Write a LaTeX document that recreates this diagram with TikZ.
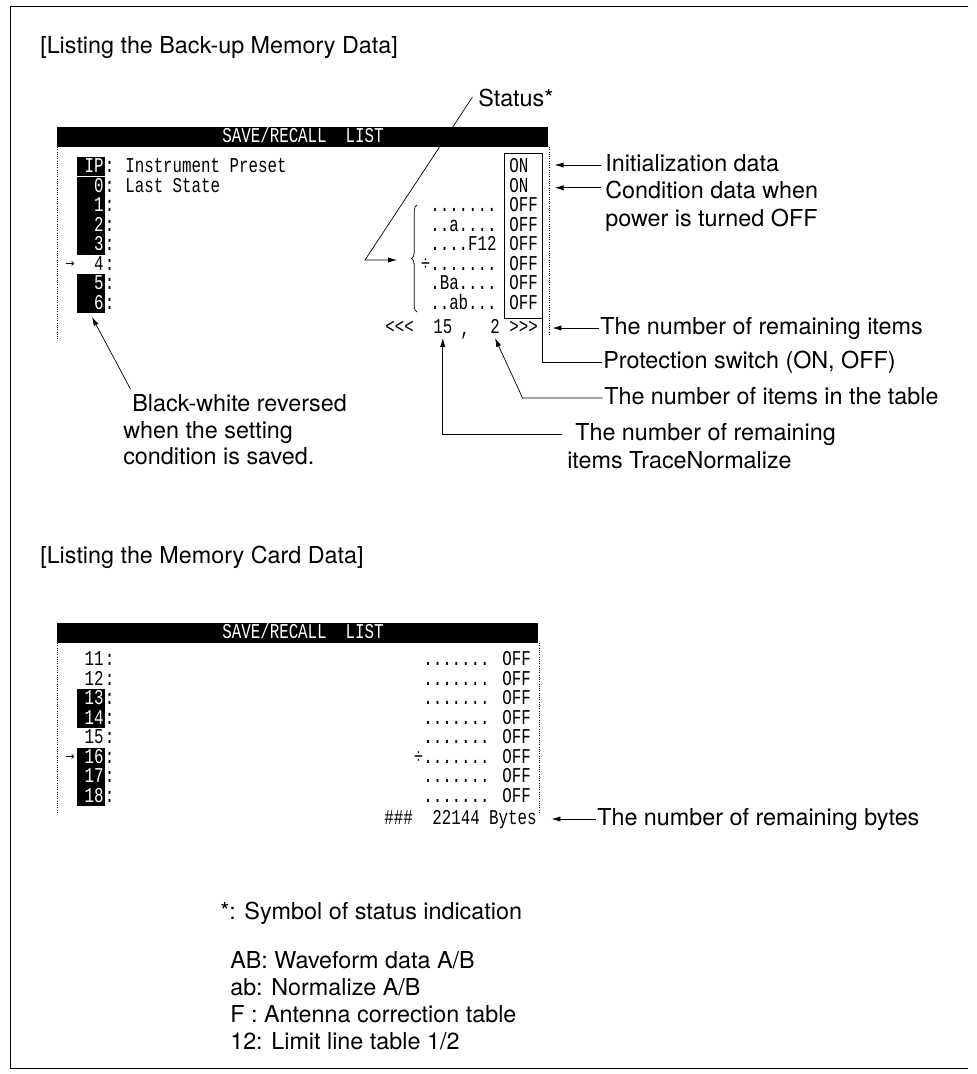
\documentclass[tikz,border=0pt]{standalone}
\usepackage{fontspec}
\setmainfont{TeX Gyre Heros}
\newfontfamily\scrfont[FakeStretch=0.75,Ligatures=TeXOff]{Liberation Mono}
\newfontfamily\symfont{DejaVu Sans}
\usepackage{xcolor}
\usetikzlibrary{arrows.meta,positioning,decorations.pathreplacing}
\newcommand\dotsrow{.......}
\newcommand\dotsmark{÷.......}
\tikzset{
  lbl/.style={inner sep=0pt, text height=12.5pt, text depth=3.5pt,
              font=\fontsize{16.6}{19}\selectfont},
  scr/.style={inner sep=0pt, text height=10pt, text depth=2pt,
              font=\scrfont\fontsize{15}{17}\selectfont},
  scrw/.style={scr, text=white},
  curmark/.style={inner sep=0pt, font=\symfont\fontsize{8}{8}\selectfont},
  bar/.style={fill=black},
  edge/.style={densely dotted, line width=0.6pt},
  frame/.style={line width=0.7pt},
  ln/.style={line width=0.5pt},
  ar/.style={-{Latex[length=2.2mm,width=1.3mm]}, line width=0.5pt},
}
\begin{document}
\begin{tikzpicture}[x=0.025cm, y=-0.025cm]
  \useasboundingbox (0,0) rectangle (976,1074);
  \draw[frame] (968,6) -- (10,6) -- (10,1068) -- (968,1068);

  \node[lbl, anchor=west] (title1) at (40,47) {[Listing the Back-up Memory Data]};
  \node[lbl, anchor=west] (status) at (478,100) {Status*};

  \fill[bar] (57,127) rectangle (548,147);
  \node[scrw] (head1) at (303,137) {SAVE/RECALL~~LIST};
  \draw[edge] (57,147) -- (57,340);
  \draw[edge] (549,147) -- (549,335);

  \foreach \lab/\bg/\fg [count=\k from 0] in {IP/black/white, 0/black/white, 1/black/white,
      2/black/white, 3/black/white, 4/white/black, 5/black/white, 6/black/white}{
    \fill[\bg] (77,{157.25+19.5*\k}) rectangle (105,{176.75+19.5*\k});
    \node[scr, text=\fg, anchor=east] (a\k) at (104,{167+19.5*\k}) {\lab};
    \node[scr, anchor=west] (ac\k) at (104.5,{167+19.5*\k}) {:};
  }
  \draw[white, line width=0.5pt] (77,176.75) -- (105,176.75);
  \node[curmark] (mk1) at (70,265) {→};

  \node[scr, anchor=west] (ip) at (125,167) {Instrument Preset};
  \node[scr, anchor=west] (ls) at (125,186.5) {Last State};

  \node[scr, anchor=east] (d2) at (497,206) {\dotsrow};
  \node[scr, anchor=east] (d3) at (497,225.5) {..a....};
  \node[scr, anchor=east] (d4) at (497,245) {....F12};
  \node[scr, anchor=east] (d5) at (497,264.5) {\dotsmark};
  \node[scr, anchor=east] (d6) at (497,284) {.Ba....};
  \node[scr, anchor=east] (d7) at (497,303.5) {..ab...};
  \foreach \sw [count=\k from 0] in {ON, ON, OFF, OFF, OFF, OFF, OFF, OFF}{
    \node[scr, anchor=west] (s\k) at (509,{167+19.5*\k}) {\sw};
  }
  \node[draw, ln, inner sep=0pt, minimum width=0.95cm, minimum height=4.125cm] (swbox) at (523,235.5) {};

  \draw[ln, decorate, decoration={brace, amplitude=4pt}] (417,312) -- (417,205);
  \coordinate (stbend) at (365,260);
  \coordinate (brtip) at (397,260);
  \draw[ar] ([xshift=-4pt,yshift=2pt]status.west) -- (stbend) -- (brtip);

  \node[scr, anchor=west] (lt) at (385,328) {<<<};
  \node[scr, anchor=west] (n15) at (433,328) {15};
  \node[scr, anchor=west] (cm) at (460,330) {,};
  \node[scr, anchor=west] (n2) at (490,328) {2};
  \node[scr, anchor=west] (gt) at (509,328) {>>>};

  \node[lbl, anchor=west] (init) at (605,165) {Initialization data};
  \node[lbl, anchor=west] (cond1) at (605,192) {Condition data when};
  \node[lbl, anchor=west] (cond2) at (605,220) {power is turned OFF};
  \node[lbl, anchor=west] (remit) at (600,328) {The number of remaining items};
  \node[lbl, anchor=west] (prot) at (603,362) {Protection switch (ON, OFF)};
  \node[lbl, anchor=west] (tbl) at (604,398) {The number of items in the table};
  \node[lbl, anchor=west] (rem1) at (575,434) {The number of remaining};
  \node[lbl, anchor=west] (rem2) at (567,462) {items TraceNormalize};

  \draw[ar] ([xshift=-3pt]init.west) -- ++(-46,0);
  \draw[ar] ([xshift=-3pt,yshift=3pt]cond1.west) -- ++(-46,0);
  \draw[ar] ([xshift=-1pt]remit.west) -- ++(-46,0);
  \draw[ln] ([xshift=-1pt]prot.west) -| (swbox.south east);
  \draw[ar] ([xshift=-1pt]tbl.west) -- ++(-80,0) -- ([yshift=-1pt]n2.south);
  \draw[ar] ([xshift=-9pt]rem1.west) -| ([yshift=-1pt]n15.south);

  \node[lbl, anchor=west] (bw1) at (132,405) {Black-white reversed};
  \node[lbl, anchor=west] (bw2) at (123,432) {when the setting};
  \node[lbl, anchor=west] (bw3) at (123,458) {condition is saved.};
  \coordinate (blk6) at (92,317);
  \draw[ar] ([xshift=-1pt,yshift=3pt]bw1.north west) -- (blk6);

  \node[lbl, anchor=west] (title2) at (40,557) {[Listing the Memory Card Data]};

  \fill[bar] (57,623) rectangle (538,643);
  \node[scrw] (head2) at (303,633) {SAVE/RECALL~~LIST};
  \draw[edge] (57,643) -- (57,812);
  \draw[edge] (539,643) -- (539,812);

  \foreach \lab/\bg/\fg [count=\k from 0] in {11/white/black, 12/white/black, 13/black/white,
      14/black/white, 15/white/black, 16/black/white, 17/black/white, 18/black/white}{
    \fill[\bg] (77,{650.25+19.5*\k}) rectangle (105,{669.75+19.5*\k});
    \node[scr, text=\fg, anchor=east] (b\k) at (104,{660+19.5*\k}) {\lab};
    \node[scr, anchor=west] (bc\k) at (104.5,{660+19.5*\k}) {:};
  }
  \node[curmark] (mk2) at (70,757.5) {→};

  \foreach \dat [count=\k from 0] in {\dotsrow, \dotsrow, \dotsrow, \dotsrow, \dotsrow,
      \dotsmark, \dotsrow, \dotsrow}{
    \node[scr, anchor=east] (e\k) at (490,{660+19.5*\k}) {\dat};
    \node[scr, anchor=west] (f\k) at (502,{660+19.5*\k}) {OFF};
  }

  \node[scr, anchor=west] (hash) at (384,819) {\#\#\#};
  \node[scr, anchor=east] (bytesn) at (537,819) {22144 Bytes};
  \node[lbl, anchor=west] (bytes) at (597,819) {The number of remaining bytes};
  \draw[ar] ([xshift=-1pt]bytes.west) -- ++(-44,0);

  \node[lbl, anchor=west] (sym) at (220,913) {*: Symbol of status indication};
  \node[lbl, anchor=west] (lgab) at (230,962) {AB: Waveform data A/B};
  \node[lbl, anchor=west] (lgnm) at (230,989) {ab: Normalize A/B};
  \node[lbl, anchor=west] (lgf) at (230,1016) {F : Antenna correction table};
  \node[lbl, anchor=west] (lg12) at (230,1043) {12: Limit line table 1/2};
\end{tikzpicture}
\end{document}
